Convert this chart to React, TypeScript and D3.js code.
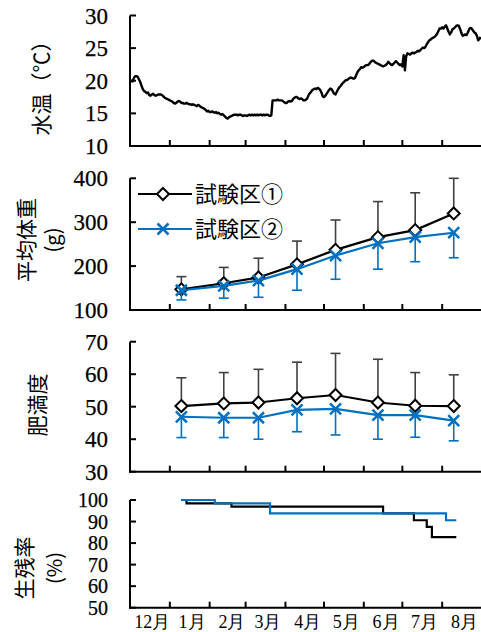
import React from 'react';
import * as d3 from 'd3';

// daily water temperature from 2018-12-01
const tempStart = '2018-12-01';
const waterTemp = [
  // Dec
  19.8, 20.0, 19.9, 20.4, 20.7, 20.7, 20.6, 20.2, 19.8, 19.2, 18.7, 18.4, 18.3, 18.1, 18.2, 17.8,
  17.7, 17.9, 18.0, 17.8, 17.7, 17.8, 17.9, 17.9, 17.9, 17.8, 17.6, 17.4, 17.3, 17.2, 17.1,
  // Jan
  17.0, 16.9, 16.8, 16.6, 16.5, 16.6, 16.8, 16.9, 16.8, 16.6, 16.6, 16.5, 16.5, 16.6, 16.5, 16.4,
  16.4, 16.3, 16.4, 16.3, 16.2, 16.1, 16.3, 16.2, 16.0, 15.9, 15.8, 15.7, 15.5, 15.3, 15.4,
  // Feb
  15.2, 15.2, 15.3, 15.2, 15.1, 15.2, 15.0, 15.1, 14.9, 14.8, 14.9, 14.7, 14.5, 14.3, 14.2, 14.4,
  14.5, 14.6, 14.7, 14.8, 14.8, 14.8, 14.7, 14.8, 14.8, 14.7, 14.6, 14.7,
  // Mar
  14.7, 14.6, 14.7, 14.8, 14.7, 14.8, 14.7, 14.8, 14.7, 14.8, 14.7, 14.8, 14.8, 14.7, 14.8, 14.7,
  14.8, 14.8, 14.7, 14.6, 14.7, 17.0, 17.0, 17.0, 17.0, 17.1, 17.0, 17.0, 17.0, 16.9, 16.7,
  // Apr
  16.6, 16.6, 16.8, 16.9, 16.8, 16.9, 17.2, 17.4, 17.5, 17.5, 17.3, 17.2, 17.3, 17.2, 17.0, 17.0,
  17.1, 17.3, 17.8, 18.1, 18.3, 18.6, 18.7, 18.8, 18.7, 18.9, 18.8, 18.6, 18.2, 17.6,
  // May
  17.5, 17.7, 18.0, 18.3, 18.6, 18.8, 18.7, 18.3, 18.0, 17.9, 18.3, 18.7, 19.0, 19.2, 19.5, 19.7,
  19.9, 20.1, 20.1, 20.3, 20.4, 20.5, 20.4, 20.3, 20.4, 20.8, 21.3, 21.6, 21.8, 22.1, 22.0,
  // Jun
  22.1, 22.3, 22.4, 22.4, 22.5, 22.8, 23.0, 23.1, 23.0, 22.8, 22.7, 22.6, 22.5, 22.4, 22.3, 22.2,
  22.3, 22.4, 22.6, 22.9, 22.7, 22.5, 22.4, 22.6, 22.8, 23.0, 22.8, 22.6, 22.4, 22.5,
  // Jul
  22.2, 23.9, 21.6, 23.8, 24.2, 24.1, 24.0, 24.2, 24.3, 24.2, 24.3, 24.4, 24.6, 24.5, 24.7, 24.9,
  25.1, 25.0, 25.2, 25.6, 25.9, 26.2, 26.3, 26.5, 26.6, 26.7, 26.9, 27.2, 27.6, 28.0, 28.0,
  // Aug
  28.2, 28.0, 28.3, 28.5, 28.0, 27.5, 27.1, 27.4, 27.9, 28.0, 28.2, 28.4, 28.5, 28.4, 27.9, 27.3,
  26.9, 27.0, 27.1, 27.0, 27.4, 27.9, 28.1, 28.0, 27.7, 27.4, 27.3, 26.9, 26.2, 26.4, 26.7,
];

const sampleDates = ['2019-01-10', '2019-02-12', '2019-03-11', '2019-04-10', '2019-05-10', '2019-06-12', '2019-07-11', '2019-08-10'];
const weight1 = [147, 161, 174, 204, 237, 266, 282, 320];
const weight1Sd = [29, 36, 44, 53, 68, 81, 85, 80];
const weight2 = [145, 155, 167, 193, 224, 252, 266, 276];
const weight2Sd = [22, 28, 38, 48, 54, 59, 56, 57];
const cf1 = [50.2, 51.0, 51.3, 52.6, 53.6, 51.3, 50.3, 50.2];
const cf1Sd = [8.7, 9.5, 10.2, 11.1, 12.8, 13.3, 10.2, 9.6];
const cf2 = [46.9, 46.6, 46.6, 49.0, 49.3, 47.4, 47.4, 45.7];
const cf2Sd = [6.4, 6.1, 6.6, 6.7, 8.0, 7.4, 6.8, 6.2];

// survival: value holds from each date until the next one
const surv1Dates = ['2019-01-10', '2019-01-14', '2019-02-18', '2019-06-16', '2019-07-10', '2019-07-20', '2019-07-24', '2019-08-12'];
const surv1 = [100, 98.4, 96.9, 93.8, 90.6, 87.5, 82.8, 82.8];
const surv2Dates = ['2019-01-10', '2019-02-05', '2019-03-20', '2019-08-04', '2019-08-12'];
const surv2 = [100, 98.4, 93.8, 90.6, 90.6];

const seriesNames = ['試験区①', '試験区②'];
const monthLabels = ['12月', '1月', '2月', '3月', '4月', '5月', '6月', '7月', '8月'];
const tempTicks = [10, 15, 20, 25, 30];
const weightTicks = [100, 200, 300, 400];
const cfTicks = [30, 40, 50, 60, 70];
const survTicks = [50, 60, 70, 80, 90, 100];

const BLUE = '#0070c0';
const BAR_GRAY = '#404040';
const SERIF = "'Liberation Serif', serif";
const JP = "'Noto Sans CJK JP', sans-serif";

const parse = d3.timeParse('%Y-%m-%d');

const x = d3.scaleTime()
  .domain([parse('2018-12-01'), parse('2019-09-01')])
  .range([130, 482]);

const X0 = 130;

const diamond = (r) => `M0,${-r}L${r},0L0,${r}L${-r},0Z`;
const cross = (r) => `M${-r},${-r}L${r},${r}M${-r},${r}L${r},${-r}`;

function Axes({y, ticks, fontSize = 23}) {
  const [d0, d1] = y.domain();
  const bottom = y(d0);
  const top = y(d1);
  const monthTicks = d3.timeMonth.range(parse('2019-01-01'), parse('2019-09-02'));
  return (
    <g>
      <line x1={X0} x2={X0} y1={top} y2={bottom + 1} stroke="#000" strokeWidth={2} />
      <line x1={X0 - 1} x2={482} y1={bottom} y2={bottom} stroke="#000" strokeWidth={2} />
      {ticks.map(t => (
        <g key={t}>
          <line x1={X0} x2={X0 + 6} y1={y(t)} y2={y(t)} stroke="#000" strokeWidth={2} />
          <text x={108} y={y(t)} dy="0.35em" textAnchor="end" style={{fontFamily: SERIF}}
            fontSize={fontSize} fill="#000" stroke="#000" strokeWidth={0.25}>{t}</text>
        </g>
      ))}
      {monthTicks.map((m, i) => (
        <line key={i} x1={x(m)} x2={x(m)} y1={bottom} y2={bottom - 6} stroke="#000" strokeWidth={2} />
      ))}
    </g>
  );
}

function YTitle({cy, lines}) {
  return (
    <g>
      {lines.map((l, i) => (
        <text key={i} transform={`translate(${l.x},${cy}) rotate(-90)`} textAnchor="middle" dy="0.35em"
          style={{fontFamily: JP}} fontSize={l.size || 21} fill="#000">{l.text}</text>
      ))}
    </g>
  );
}

function Series({y, values, sd, up, color, barColor, marker}) {
  const dates = sampleDates.map(parse);
  const line = d3.line().x((d, i) => x(dates[i])).y(d => y(d));
  return (
    <g>
      {values.map((v, i) => {
        const end = up ? v + sd[i] : v - sd[i];
        const px = x(dates[i]);
        return (
          <g key={i} stroke={barColor} strokeWidth={1.6}>
            <line x1={px} x2={px} y1={y(v)} y2={y(end)} />
            <line x1={px - 5} x2={px + 5} y1={y(end)} y2={y(end)} />
          </g>
        );
      })}
      <path d={line(values)} fill="none" stroke={color} strokeWidth={2.2} />
      {values.map((v, i) => (
        <path key={i} transform={`translate(${x(dates[i])},${y(v)})`}
          d={marker === 'diamond' ? diamond(6) : cross(5.5)}
          fill={marker === 'diamond' ? '#fff' : 'none'} stroke={color}
          strokeWidth={marker === 'diamond' ? 2 : 2.5} />
      ))}
    </g>
  );
}

function StepLine({y, dates, values, color}) {
  const ds = dates.map(parse);
  const line = d3.line().x((d, i) => x(ds[i])).y(d => y(d)).curve(d3.curveStepAfter);
  return <path d={line(values)} fill="none" stroke={color} strokeWidth={2.2} />;
}

export default function App() {
  const yTemp = d3.scaleLinear().domain([10, 30]).range([146, 15.5]);
  const yW = d3.scaleLinear().domain([100, 400]).range([310, 178.3]);
  const yCf = d3.scaleLinear().domain([30, 70]).range([471.7, 341.7]);
  const yS = d3.scaleLinear().domain([50, 100]).range([607.7, 500]);

  const t0 = parse(tempStart);
  const tempLine = d3.line()
    .x((d, i) => x(d3.timeDay.offset(t0, i)))
    .y(d => yTemp(d));

  const months = d3.timeMonth.range(parse('2018-12-01'), parse('2019-09-01'));

  return (
    <div style={{position: 'absolute', left: 0, top: 0}}>
      <svg width={481} height={632} style={{display: 'block', background: '#fff'}}>
        {/* water temperature */}
        <Axes y={yTemp} ticks={tempTicks} />
        <path d={tempLine(waterTemp)} fill="none" stroke="#000" strokeWidth={2.4} strokeLinejoin="round" />
        <YTitle cy={83} lines={[{x: 42, text: '水温（℃）'}]} />

        {/* mean body weight */}
        <Axes y={yW} ticks={weightTicks} />
        <Series y={yW} values={weight1} sd={weight1Sd} up color="#000" barColor={BAR_GRAY} marker="diamond" />
        <Series y={yW} values={weight2} sd={weight2Sd} up={false} color={BLUE} barColor={BLUE} marker="cross" />
        <YTitle cy={240} lines={[{x: 27, text: '平均体重'}, {x: 53, text: '(g)', size: 20}]} />

        {/* legend */}
        <g>
          <line x1={138} x2={192} y1={194} y2={194} stroke="#000" strokeWidth={2.2} />
          <path transform="translate(163,194)" d={diamond(6)} fill="#fff" stroke="#000" strokeWidth={2} />
          <text x={195} y={194} dy="0.36em" style={{fontFamily: JP}} fontSize={22} fill="#000">{seriesNames[0]}</text>
          <line x1={138} x2={192} y1={229} y2={229} stroke={BLUE} strokeWidth={2.2} />
          <path transform="translate(163,229)" d={cross(5.5)} fill="none" stroke={BLUE} strokeWidth={2.5} />
          <text x={195} y={229} dy="0.36em" style={{fontFamily: JP}} fontSize={22} fill="#000">{seriesNames[1]}</text>
        </g>

        {/* condition factor */}
        <Axes y={yCf} ticks={cfTicks} />
        <Series y={yCf} values={cf1} sd={cf1Sd} up color="#000" barColor={BAR_GRAY} marker="diamond" />
        <Series y={yCf} values={cf2} sd={cf2Sd} up={false} color={BLUE} barColor={BLUE} marker="cross" />
        <YTitle cy={405} lines={[{x: 38, text: '肥満度'}]} />

        {/* survival */}
        <Axes y={yS} ticks={survTicks} fontSize={20} />
        <StepLine y={yS} dates={surv1Dates} values={surv1} color="#000" />
        <StepLine y={yS} dates={surv2Dates} values={surv2} color={BLUE} />
        <YTitle cy={568} lines={[{x: 25, text: '生残率'}, {x: 55, text: '(%)', size: 20}]} />

        {months.map((m, i) => (
          <text key={i} x={x(d3.timeDay.offset(m, 15)) + 3} y={628} textAnchor="middle"
            style={{fontFamily: SERIF}} fontSize={18} fill="#000">{monthLabels[i]}</text>
        ))}
      </svg>
    </div>
  );
}
